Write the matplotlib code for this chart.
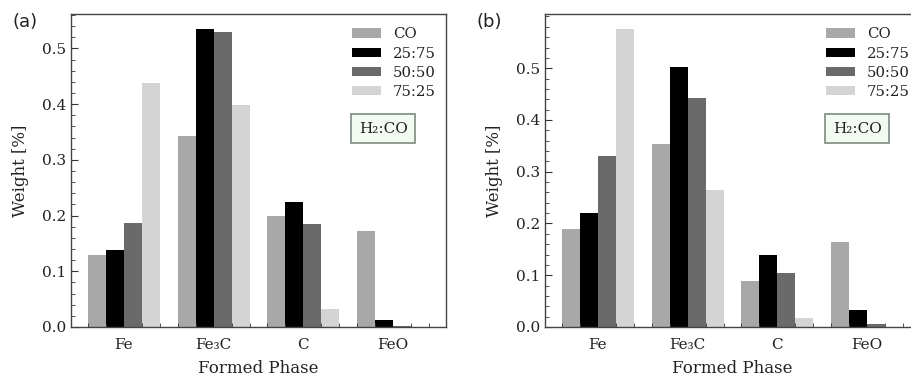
import matplotlib
matplotlib.use("Agg")
import matplotlib.pyplot as plt
import numpy as np
from matplotlib.ticker import MultipleLocator, FixedLocator

phases = ["Fe", "Fe₃C", "C", "FeO"]
series_labels = ["CO", "25:75", "50:50", "75:25"]
series_colors = ["#a8a8a8", "#000000", "#6a6a6a", "#d4d4d4"]
y_ticks = [0.0, 0.1, 0.2, 0.3, 0.4, 0.5]

# Panel (a)
a_co = [0.129, 0.342, 0.199, 0.173]
a_2575 = [0.139, 0.535, 0.224, 0.013]
a_5050 = [0.187, 0.530, 0.184, 0.001]
a_7525 = [0.438, 0.398, 0.032, 0.0]

# Panel (b)
b_co = [0.189, 0.354, 0.088, 0.164]
b_2575 = [0.221, 0.503, 0.139, 0.033]
b_5050 = [0.331, 0.442, 0.105, 0.006]
b_7525 = [0.576, 0.264, 0.017, 0.0]

plt.rcParams['font.family'] = ['DejaVu Serif']

fig = plt.figure(figsize=(9.11, 3.79), dpi=100)
W, H = 911, 379

def make_axes(left_px):
    return fig.add_axes([left_px / W, 52 / H, 375 / W, 313 / H])

def draw(ax, data):
    x = np.arange(len(phases))
    width = 0.2
    for i, (vals, lab, col) in enumerate(zip(data, series_labels, series_colors)):
        ax.bar(x - 0.3 + i * width, vals, width, color=col, label=lab)
    ax.set_xticks(x)
    ax.set_xticklabels(phases)
    ax.xaxis.set_minor_locator(MultipleLocator(0.2))
    ax.yaxis.set_major_locator(FixedLocator(y_ticks))
    ax.yaxis.set_minor_locator(MultipleLocator(0.02))
    ax.yaxis.set_major_formatter(matplotlib.ticker.FormatStrFormatter('%.1f'))
    ax.tick_params(which='both', direction='in', top=False, right=False, labelsize=11, colors='#333333', labelcolor='#222222')
    ax.tick_params(which='major', length=5, width=0.8)
    ax.tick_params(which='minor', length=3, width=0.6)
    ax.tick_params(axis='x', which='major', length=0, pad=8)
    for s in ax.spines.values():
        s.set_color('#444444')
        s.set_linewidth(1.0)
    ax.set_xlabel("Formed Phase", fontsize=12, color='#222222', labelpad=6)
    ax.set_ylabel("Weight [%]", fontsize=12, color='#222222', labelpad=9)
    leg = ax.legend(loc='upper right', bbox_to_anchor=(1.008, 1.0), frameon=False, fontsize=10.7,
                    handlelength=2.0, handleheight=0.6, handletextpad=0.75, labelspacing=0.35)
    for t in leg.get_texts():
        t.set_color('#222222')
    ax.text(0.833, 0.634, "H₂:CO", transform=ax.transAxes, ha='center', va='center', fontsize=11,
            color='#222222',
            bbox=dict(boxstyle='square,pad=0.5', facecolor='#f2faf2', edgecolor='#7f8a7f', linewidth=1.2))

ax1 = make_axes(71)
draw(ax1, [a_co, a_2575, a_5050, a_7525])
ax2 = make_axes(545)
draw(ax2, [b_co, b_2575, b_5050, b_7525])

fig.text(12 / W, 1 - 22 / H, "(a)", fontsize=13, family='DejaVu Sans', va='center', ha='left', color='#222222')
fig.text(477 / W, 1 - 22 / H, "(b)", fontsize=13, family='DejaVu Sans', va='center', ha='left', color='#222222')

fig.savefig("out.png", dpi=100)
